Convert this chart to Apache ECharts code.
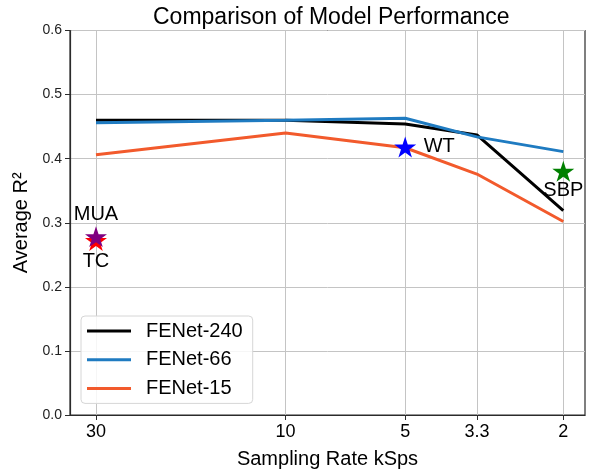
<!DOCTYPE html>
<html>
<head>
<meta charset="utf-8">
<script src="https://cdn.jsdelivr.net/npm/echarts@6/dist/echarts.min.js"></script>
<style>
  html, body { margin: 0; padding: 0; background: #fff; }
  #main { width: 595px; height: 474px; }
</style>
</head>
<body>
<div id="main"></div>
<script>
// sampling rates (kSps), drawn on a reversed log axis
var rates = [30, 10, 5, 3.3, 2];
var rateLabels = ['30', '10', '5', '3.3', '2'];

var seriesNames = ['FENet-240', 'FENet-66', 'FENet-15'];
var fenet240 = [0.460, 0.460, 0.454, 0.437, 0.319];
var fenet66 = [0.456, 0.460, 0.463, 0.434, 0.411];
var fenet15 = [0.406, 0.440, 0.417, 0.376, 0.302];

// other decoders, one star each
var starNames = ['TC', 'MUA', 'WT', 'SBP'];
var starRates = [30, 30, 5, 2];
var starValues = [0.274, 0.280, 0.420, 0.382];

var yTicks = [0, 0.1, 0.2, 0.3, 0.4, 0.5, 0.6];

var lineColors = { 'FENet-240': '#000000', 'FENet-66': '#1f7bc1', 'FENet-15': '#f25a2c' };
var starColors = { TC: '#ff0000', MUA: '#800080', WT: '#0000ff', SBP: '#008000' };
var starLabelOffset = { TC: [0, 21], MUA: [0, -22], WT: [34, 0], SBP: [0, 19] };

var STAR = 'path://M50,0 L61.2,34.5 L97.6,34.5 L68.2,55.9 L79.4,90.5 L50,69.1 L20.6,90.5 L31.8,55.9 L2.4,34.5 L38.8,34.5 Z';
var FONT = 'Liberation Sans, Arial, sans-serif';

function lg(v) { return Math.log10(v); }
var tickPos = rates.map(lg);

function pairs(vals) {
  return vals.map(function (v, i) { return [lg(rates[i]), v]; });
}

var lines = [fenet240, fenet66, fenet15].map(function (vals, k) {
  var name = seriesNames[k];
  return {
    name: name,
    type: 'line',
    data: pairs(vals),
    symbol: 'none',
    z: 2,
    lineStyle: { color: lineColors[name], width: 3 },
    itemStyle: { color: lineColors[name] }
  };
});

var stars = starNames.map(function (name, i) {
  return {
    name: name,
    type: 'scatter',
    data: [[lg(starRates[i]), starValues[i]]],
    symbol: STAR,
    symbolSize: 22,
    symbolKeepAspect: true,
    symbolOffset: [0, '5%'],
    z: 5,
    itemStyle: { color: starColors[name], opacity: 1 },
    label: {
      show: true,
      formatter: name,
      position: 'inside',
      offset: starLabelOffset[name],
      color: '#000',
      fontSize: 20,
      fontFamily: FONT
    }
  };
});

var chart = echarts.init(document.getElementById('main'), null, { renderer: 'canvas' });
chart.setOption({
  backgroundColor: '#fff',
  animation: false,
  title: {
    text: 'Comparison of Model Performance',
    left: 148,
    top: 1,
    textStyle: { fontSize: 23, fontWeight: 'normal', color: '#000', fontFamily: FONT }
  },
  grid: {
    left: 70, right: 10, top: 30.5, bottom: 58,
    show: true, borderColor: '#2b2b2b', borderWidth: 1.2, backgroundColor: '#fff'
  },
  legend: {
    data: seriesNames,
    icon: 'rect',
    orient: 'vertical',
    left: 81,
    top: 316,
    padding: [5, 10, 5, 6],
    itemWidth: 44,
    itemHeight: 3,
    itemGap: 8.7,
    borderColor: '#d6d6d6',
    borderWidth: 1,
    borderRadius: 4,
    backgroundColor: 'rgba(255,255,255,0.85)',
    textStyle: { fontSize: 20, lineHeight: 20, color: '#000', fontFamily: FONT, padding: [0, 0, 0, 10] }
  },
  xAxis: {
    type: 'value',
    inverse: true,
    min: lg(2) - 0.0546,
    max: lg(30) + 0.0654,
    name: 'Sampling Rate kSps',
    nameLocation: 'middle',
    nameGap: 34,
    nameTextStyle: { fontSize: 20, color: '#000', fontFamily: FONT },
    axisLine: { show: true, lineStyle: { color: '#2b2b2b', width: 1.2 } },
    axisTick: { show: true, customValues: tickPos, length: 5, lineStyle: { color: '#2b2b2b' } },
    axisLabel: {
      customValues: tickPos,
      fontSize: 18,
      color: '#000',
      fontFamily: FONT,
      margin: 8,
      formatter: function (v) {
        for (var i = 0; i < tickPos.length; i++) {
          if (Math.abs(tickPos[i] - v) < 1e-6) return rateLabels[i];
        }
        return '';
      }
    },
    splitLine: { show: true, lineStyle: { color: '#c4c4c4', width: 1 } }
  },
  yAxis: {
    type: 'value',
    min: yTicks[0],
    max: yTicks[yTicks.length - 1],
    interval: 0.1,
    name: 'Average R²',
    nameLocation: 'middle',
    nameGap: 36,
    nameTextStyle: { fontSize: 20, color: '#000', fontFamily: FONT },
    axisLine: { show: true, lineStyle: { color: '#2b2b2b', width: 1.2 } },
    axisTick: { show: true, length: 5, lineStyle: { color: '#2b2b2b' } },
    axisLabel: {
      fontSize: 14,
      color: '#222',
      fontFamily: FONT,
      margin: 8,
      formatter: function (v) { return v.toFixed(1); }
    },
    splitLine: { show: true, lineStyle: { color: '#c4c4c4', width: 1 } }
  },
  series: lines.concat(stars)
});
</script>
</body>
</html>
